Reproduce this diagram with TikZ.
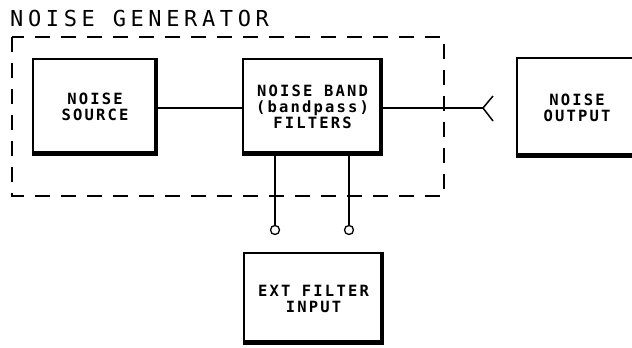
\documentclass[tikz,border=0pt]{standalone}
\usepackage{fontspec}
\newfontfamily\titlefont[LetterSpace=21]{DejaVu Sans Mono}
\newfontfamily\boxfont[LetterSpace=14]{DejaVu Sans Mono}

\tikzset{
  unit/.style={draw,line width=1.2pt,fill=white,align=center,
    font=\boxfont\bfseries\fontsize{15.5}{16}\selectfont,
    path picture={\draw[line width=7pt] (path picture bounding box.south west)
      -- (path picture bounding box.south east) -- (path picture bounding box.north east);}},
  jack/.style={draw,circle,line width=1.3pt,inner sep=0pt,minimum size=9pt},
  wire/.style={line width=1.5pt}
}

\begin{document}
\begin{tikzpicture}[x=1pt,y=1pt]
  \useasboundingbox (0,0) rectangle (632,348);
  \node[anchor=base west,font=\titlefont\fontsize{22}{24}\selectfont,inner sep=0pt] (title) at (10,321) {NOISE GENERATOR};
  \draw[line width=1.4pt,dash pattern=on 15pt off 11pt] (12,311) rectangle (444,152); % generator frame
  \node[unit,minimum width=124pt,minimum height=96pt] (src) at (95,241) {NOISE\\SOURCE};
  \node[unit,minimum width=139pt,minimum height=96pt] (band) at (312.5,241) {NOISE BAND\\(bandpass)\\FILTERS};
  \node[unit,minimum width=120pt,minimum height=99pt] (out) at (577,240.5) {NOISE\\OUTPUT};
  \node[unit,minimum width=139pt,minimum height=91pt] (ext) at (313.5,49.5) {EXT FILTER\\INPUT};
  \draw[wire] (src.east |- 0,240) -- (band.west |- 0,240);
  % output plug
  \coordinate (plug) at (483,240);
  \draw[wire] (band.east |- plug) -- (plug);
  \draw[wire] (493,252) -- (plug) -- (493,227);
  % filter jacks
  \node[jack] (j1) at (275,118) {};
  \node[jack] (j2) at (349,118) {};
  \draw[wire] (band.south -| j1) -- (j1);
  \draw[wire] (band.south -| j2) -- (j2);
\end{tikzpicture}
\end{document}
